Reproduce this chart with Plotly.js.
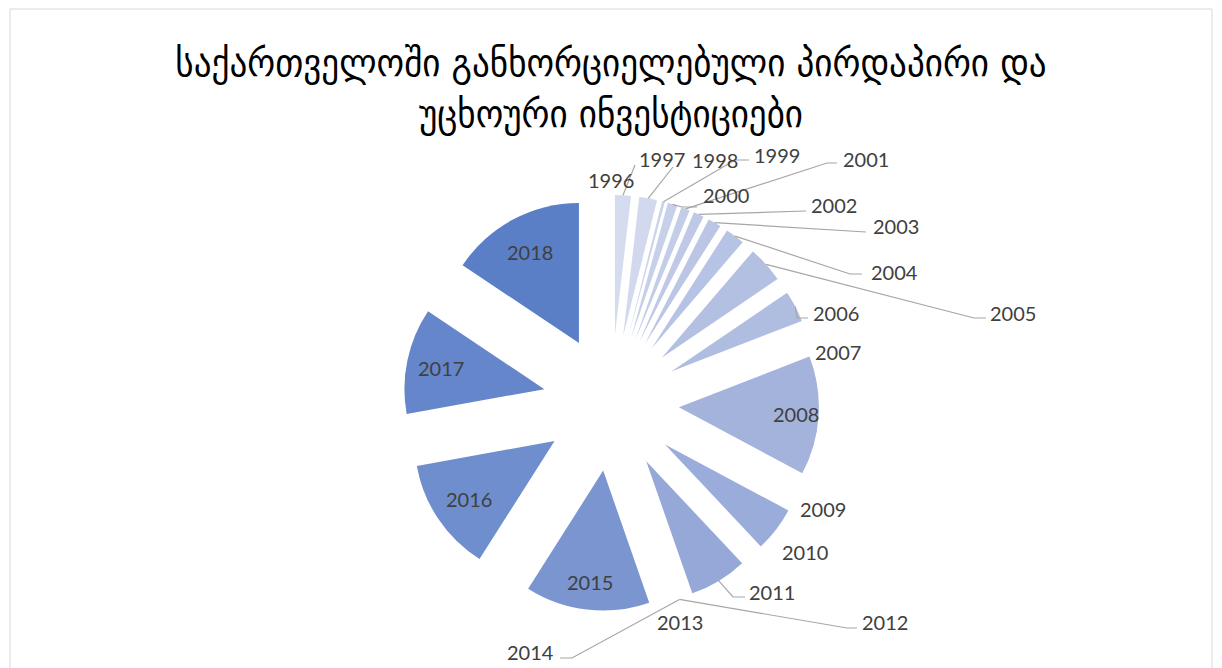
<!DOCTYPE html>
<html>
<head>
<meta charset="utf-8">
<script src="https://cdn.plot.ly/plotly-3.0.1.min.js"></script>
<style>
html,body{margin:0;padding:0;background:#fff;}
#chart{width:1222px;height:668px;}
</style>
</head>
<body>
<div id="chart"></div>
<script>
// ---- data ----
const years = ['1996','1997','1998','1999','2000','2001','2002','2003','2004','2005','2006',
               '2007','2008','2009','2010','2011','2012','2013','2014','2015','2016','2017','2018'];
const investments = [66, 74, 0, 12, 40, 36, 43, 55, 80, 152, 130,
                     0, 493, 0, 186, 240, 0, 0, 0, 516, 473, 440, 562];
const titleLines = ['საქართველოში განხორციელებული პირდაპირი და', 'უცხოური ინვესტიციები'];

// ---- style / layout ----
const W = 1222, H = 668;
const M = {l: 0, r: 0, t: 195, b: 57};
const explode = 0.486;
const labelFont = {family: 'Lato, "Open Sans", sans-serif', size: 20, color: '#404040'};
const leaderColor = '#A6A6A6';
// colour anchors (index -> colour), light to dark
const colorAnchors = [[0,'#D6DCEF'],[10,'#AFBDE1'],[12,'#A4B3DC'],[15,'#95A8D7'],[19,'#7A95D0'],[22,'#5A7FC7']];
// inside labels: depth along slice bisector (fraction of radius)
const insideLabels = {'2008':0.84,'2015':0.80,'2016':0.74,'2017':0.755,'2018':0.74};
// outside labels: text centre (px) and leader-line bends (px)
const outsideLabels = {
  '1996': {at:[611,180], path:[[635,165]]},
  '1997': {at:[662,159], path:[[673,167]]},
  '1998': {at:[715,160]},
  '1999': {at:[777,155], path:[[735,160],[749,160]]},
  '2000': {at:[726,195], path:[[682,207],[697,207]]},
  '2001': {at:[866,159], path:[[827,163],[837,163]]},
  '2002': {at:[834,205], path:[[806,211]]},
  '2003': {at:[896,226], path:[[866,232]]},
  '2004': {at:[894,272], path:[[850,274],[862,274]]},
  '2005': {at:[1013,313], path:[[974,318],[986,318]]},
  '2006': {at:[836,313], path:[[797,318],[808,318]]},
  '2007': {at:[838,352]},
  '2009': {at:[823,509]},
  '2010': {at:[805,552]},
  '2011': {at:[772,592], path:[[733,597],[745,597]]},
  '2012': {at:[885,622], path:[[847,628],[857,628]]},
  '2013': {at:[680,622]},
  '2014': {at:[530,652], path:[[572,658],[560,658]]}
};

function hex2rgb(h){return [parseInt(h.slice(1,3),16),parseInt(h.slice(3,5),16),parseInt(h.slice(5,7),16)];}
function colorAt(i){
  for(let k=0;k<colorAnchors.length-1;k++){
    const [i0,c0]=colorAnchors[k],[i1,c1]=colorAnchors[k+1];
    if(i>=i0 && i<=i1){
      const t=(i-i0)/(i1-i0), a=hex2rgb(c0), b=hex2rgb(c1);
      return 'rgb('+a.map((v,j)=>Math.round(v+(b[j]-v)*t)).join(',')+')';
    }
  }
  return colorAnchors[colorAnchors.length-1][1];
}
const colors = years.map((_,i)=>colorAt(i));

const trace = {
  type: 'pie',
  values: investments,
  labels: years,
  sort: false,
  direction: 'clockwise',
  rotation: 0,
  pull: years.map(()=>explode),
  marker: {colors: colors, line: {width: 0}},
  textinfo: 'none',
  hoverinfo: 'label+value',
  showlegend: false,
  domain: {x:[0,1], y:[0,1]}
};

const layout = {
  width: W, height: H,
  margin: M,
  paper_bgcolor: '#ffffff',
  plot_bgcolor: '#ffffff',
  showlegend: false,
  title: {
    text: titleLines.join('<br>'),
    font: {family: '"DejaVu Sans Condensed", "DejaVu Sans", sans-serif', size: 39, color: '#000000'},
    x: 0.5, xanchor: 'center', xref: 'paper',
    y: 1 - 76/H, yanchor: 'middle', yref: 'container'
  }
};

const gd = document.getElementById('chart');
Plotly.newPlot(gd, [trace], layout, {displayModeBar: false, staticPlot: true}).then(function(){
  const cd0 = gd.calcdata && gd.calcdata[0] && gd.calcdata[0][0];
  const sz = gd._fullLayout._size;
  const pieH = sz.h, pieW = sz.w;
  const r = cd0 && cd0.r ? cd0.r : Math.min(pieW, pieH)/(2+2*explode);
  const cx = cd0 && cd0.cx ? cd0.cx : sz.l + pieW/2;
  const cy = cd0 && cd0.cy ? cd0.cy : sz.t + pieH/2;
  const px2x = px => (px - sz.l)/sz.w;
  const px2y = py => (H - sz.b - py)/sz.h;

  const total = investments.reduce((a,b)=>a+b,0);
  let acc = 0;
  const geo = {};
  years.forEach((y,i)=>{
    const a0 = acc/total*2*Math.PI;
    acc += investments[i];
    const a1 = acc/total*2*Math.PI;
    const mid = (a0+a1)/2;
    const ux = Math.sin(mid), uy = -Math.cos(mid);
    geo[y] = {mid, ux, uy,
      vx: cx + explode*r*ux, vy: cy + explode*r*uy,
      ox: cx + (1+explode)*r*ux, oy: cy + (1+explode)*r*uy};
  });

  const annotations = [];
  const shapes = [];
  // chart border
  shapes.push({type:'rect', xref:'paper', yref:'paper', x0:px2x(10), x1:px2x(1212), y0:px2y(720), y1:px2y(9),
               line:{color:'#D9D9D9', width:1}, fillcolor:'rgba(0,0,0,0)', layer:'below'});

  Object.keys(insideLabels).forEach(y=>{
    const g = geo[y], k = insideLabels[y];
    annotations.push({xref:'paper', yref:'paper', x:px2x(g.vx + k*r*g.ux), y:px2y(g.vy + k*r*g.uy),
      text:y, showarrow:false, xanchor:'center', yanchor:'middle', font:labelFont});
  });
  Object.keys(outsideLabels).forEach(y=>{
    const o = outsideLabels[y], g = geo[y];
    annotations.push({xref:'paper', yref:'paper', x:px2x(o.at[0]), y:px2y(o.at[1]),
      text:y, showarrow:false, xanchor:'center', yanchor:'middle', font:labelFont});
    if(o.path){
      let p = 'M' + px2x(g.ox) + ',' + px2y(g.oy);
      o.path.forEach(pt=>{ p += ' L' + px2x(pt[0]) + ',' + px2y(pt[1]); });
      shapes.push({type:'path', xref:'paper', yref:'paper', path:p, line:{color:leaderColor, width:1.2}});
    }
  });
  return Plotly.relayout(gd, {annotations: annotations, shapes: shapes});
});
</script>
</body>
</html>
